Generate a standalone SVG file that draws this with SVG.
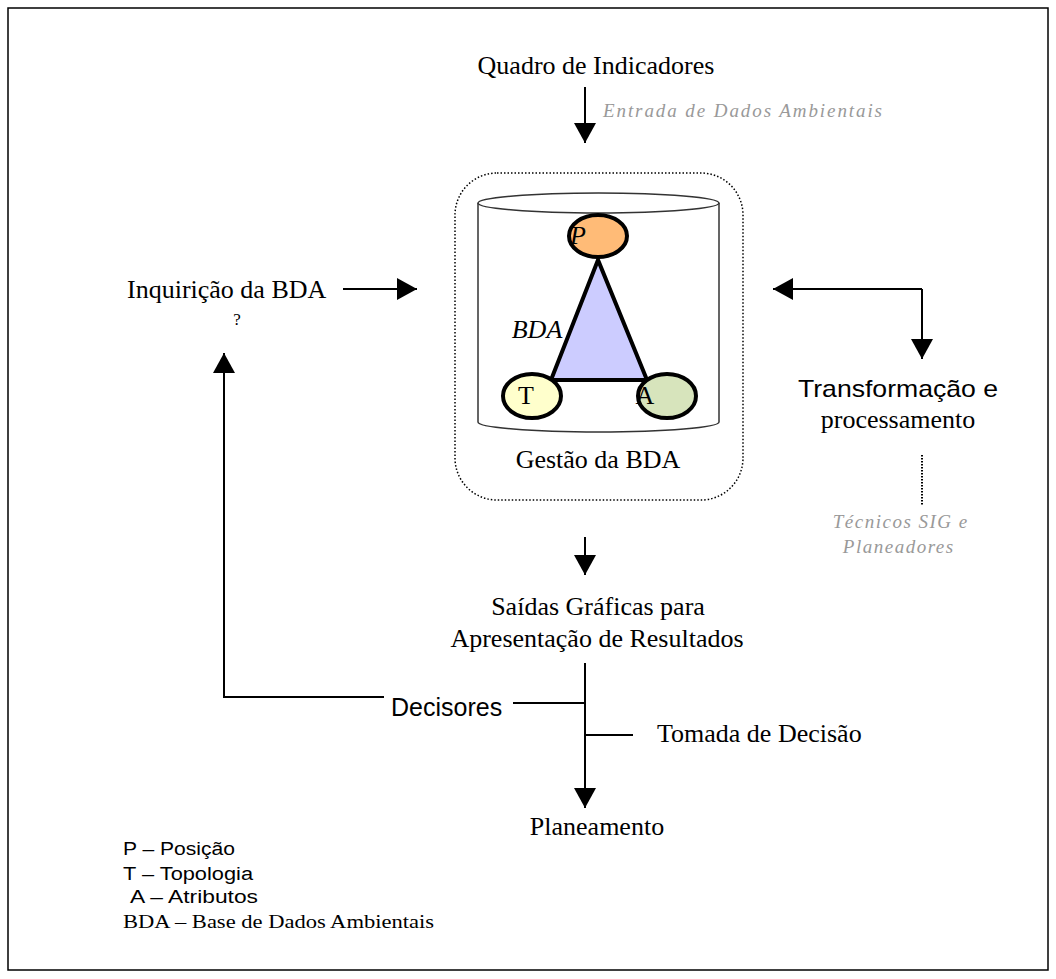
<svg xmlns="http://www.w3.org/2000/svg" width="1056" height="979" viewBox="0 0 1056 979">
<defs>
<style>
.t{font-family:"Liberation Serif","Times New Roman",serif;font-size:26px;fill:#000}
.a{font-family:"Liberation Sans",Arial,sans-serif;fill:#000}
.g{font-family:"Liberation Serif","Times New Roman",serif;font-style:italic;font-size:19px;fill:#999}
.i{font-style:italic}
.ln{stroke:#000;stroke-width:2;fill:none}
.bold{stroke:#000;stroke-width:4}
</style>
<marker id="ah" markerUnits="userSpaceOnUse" markerWidth="21" markerHeight="22" refX="20" refY="11" orient="auto">
<path d="M0,0 L20,11 L0,22 z" fill="#000"/>
</marker>
</defs>
<rect x="8" y="8" width="1040" height="962" fill="#fff" stroke="#000" stroke-width="1.5"/>

<g id="quadro"><text class="t" x="596" y="74" text-anchor="middle">Quadro de Indicadores</text></g>
<g id="entrada"><text class="g" x="603" y="117" textLength="279" lengthAdjust="spacing">Entrada de Dados Ambientais</text></g>

<g id="gestao">
<rect x="455" y="173" width="288" height="327" rx="42" ry="42" fill="none" stroke="#000" stroke-width="1.5" stroke-dasharray="1.5,2"/>
<path d="M478,203 L478,422 A120.5,10 0 0 0 719,422 L719,203" fill="#fff" stroke="#333" stroke-width="1.5"/>
<ellipse cx="598.5" cy="203" rx="120.5" ry="10" fill="#fff" stroke="#333" stroke-width="1.5"/>
<polygon points="598,260 551,380 647,380" fill="#CCCCFF" class="bold" stroke-linejoin="miter"/>
<ellipse cx="598" cy="236" rx="29" ry="21" fill="#FFBB77" class="bold"/>
<ellipse cx="532" cy="396" rx="29" ry="22" fill="#FFFFCC" class="bold"/>
<ellipse cx="667" cy="396" rx="29" ry="22" fill="#D7E4BC" class="bold"/>
<text class="t i" x="578" y="244" text-anchor="middle">P</text>
<text class="t i" x="537" y="338" text-anchor="middle">BDA</text>
<text class="t" x="526" y="404" text-anchor="middle">T</text>
<text class="t" x="645" y="404" text-anchor="middle">A</text>
<text class="t" x="598" y="468" text-anchor="middle">Gestão da BDA</text>
</g>

<g id="inquiricao">
<text class="t" x="127" y="298">Inquirição da BDA</text>
<text class="t" x="237" y="325" text-anchor="middle" style="font-size:17px">?</text>
</g>

<g id="transformacao">
<text class="a" x="798" y="397" style="font-size:24px" textLength="200" lengthAdjust="spacingAndGlyphs">Transformação e</text>
<text class="t" x="898" y="428" text-anchor="middle">processamento</text>
</g>

<g id="tecnicos">
<text class="g" x="900" y="528" text-anchor="middle">T<tspan dx="1.5">é</tspan><tspan dx="1.5">c</tspan><tspan dx="1.5">n</tspan><tspan dx="1.5">i</tspan><tspan dx="1.5">c</tspan><tspan dx="1.5">o</tspan><tspan dx="1.5">s</tspan><tspan dx="1.5"> </tspan><tspan dx="1.5">S</tspan><tspan dx="1.5">I</tspan><tspan dx="1.5">G</tspan><tspan dx="1.5"> </tspan><tspan dx="1.5">e</tspan></text>
<text class="g" x="898" y="553" text-anchor="middle">P<tspan dx="1.5">l</tspan><tspan dx="1.5">a</tspan><tspan dx="1.5">n</tspan><tspan dx="1.5">e</tspan><tspan dx="1.5">a</tspan><tspan dx="1.5">d</tspan><tspan dx="1.5">o</tspan><tspan dx="1.5">r</tspan><tspan dx="1.5">e</tspan><tspan dx="1.5">s</tspan></text>
</g>

<g id="saidas">
<text class="t" x="598" y="615" text-anchor="middle">Saídas Gráficas para</text>
<text class="t" x="597" y="647" text-anchor="middle">Apresentação de Resultados</text>
</g>

<g id="decisores"><text class="a" x="391" y="716" style="font-size:25px">Decisores</text></g>
<g id="tomada"><text class="t" x="657" y="742">Tomada de Decisão</text></g>
<g id="planeamento"><text class="t" x="597" y="835" text-anchor="middle">Planeamento</text></g>

<g id="legenda">
<text class="a" x="123" y="855" style="font-size:18px" textLength="112" lengthAdjust="spacingAndGlyphs">P – Posição</text>
<text class="a" x="123" y="880" style="font-size:18px" textLength="130" lengthAdjust="spacingAndGlyphs">T – Topologia</text>
<text class="a" x="130" y="903" style="font-size:18px" textLength="128" lengthAdjust="spacingAndGlyphs">A – Atributos</text>
<text class="t" x="123" y="928" style="font-size:18.5px" textLength="311" lengthAdjust="spacingAndGlyphs">BDA – Base de Dados Ambientais</text>
</g>

<g id="connectors">
<line class="ln" x1="585" y1="87" x2="585" y2="143" marker-end="url(#ah)"/>
<line class="ln" x1="343" y1="289" x2="417" y2="289" marker-end="url(#ah)"/>
<polyline class="ln" points="922,289 922,359" marker-end="url(#ah)"/>
<polyline class="ln" points="922,289 773,289" marker-end="url(#ah)"/>
<line class="ln" x1="922" y1="455" x2="922" y2="505" stroke-dasharray="1.5,1.5"/>
<line class="ln" x1="585" y1="537" x2="585" y2="575" marker-end="url(#ah)"/>
<line class="ln" x1="585" y1="663" x2="585" y2="808" marker-end="url(#ah)"/>
<line class="ln" x1="513" y1="703" x2="585" y2="703"/>
<line class="ln" x1="585" y1="735" x2="633" y2="735"/>
<polyline class="ln" points="384,697 224,697 224,353" marker-end="url(#ah)"/>
</g>
</svg>
